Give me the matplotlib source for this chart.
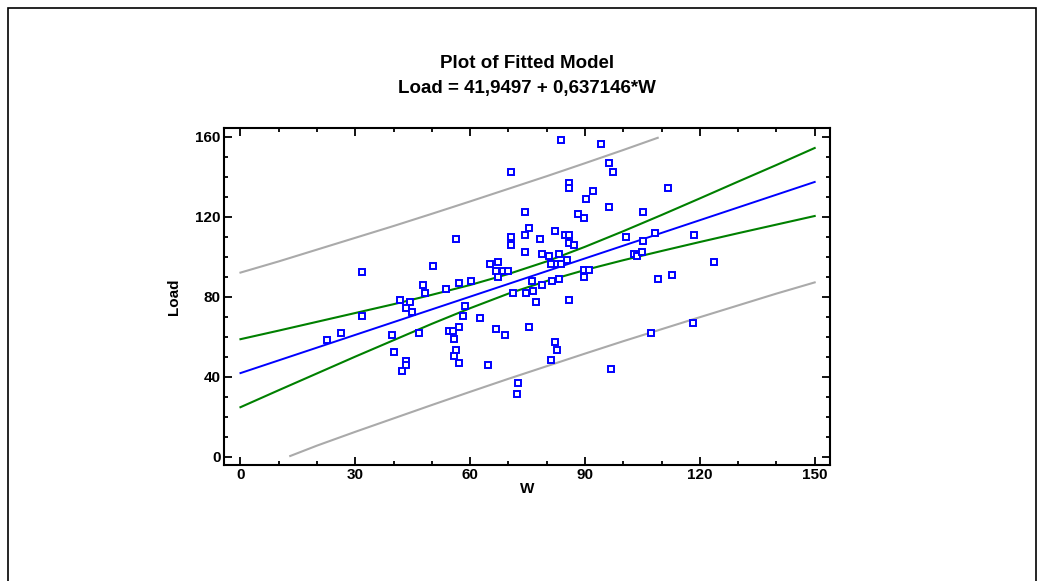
import matplotlib.pyplot as plt
from matplotlib.patches import Rectangle
from matplotlib.ticker import MultipleLocator
import numpy as np

# scatter data
w_obs = [70.7, 56.2, 70.7, 70.7, 50.3, 65.2, 67.2, 31.8, 83.7, 94.1,
         96.2, 97.3, 85.8, 85.8, 92.2, 90.2, 111.8, 96.2, 74.2, 105.2,
         88.2, 89.7, 75.3, 82.2, 74.2, 78.3, 84.8, 85.8, 85.8, 87.2,
         100.8, 105.2, 108.2, 118.6, 74.2, 78.7, 80.7, 83.3, 85.3, 81.2,
         82.7, 83.8, 102.7, 103.7, 104.8, 123.8, 89.7, 91.1, 66.7, 68.7,
         69.8, 67.3, 47.7, 57.2, 60.2, 48.3, 53.7, 71.2, 41.6, 44.2,
         43.2, 44.8, 31.7, 58.7, 58.2, 62.7, 26.2, 22.7, 39.7, 46.7,
         54.6, 55.6, 57.2, 66.8, 69.2, 55.7, 40.2, 56.2, 55.7, 43.3,
         43.3, 42.2, 57.2, 64.7, 72.6, 72.2, 89.8, 76.2, 78.7, 81.3,
         83.3, 74.6, 76.3, 77.3, 85.8, 109.2, 112.7, 75.3, 82.2, 82.7,
         81.2, 107.2, 118.2, 96.7]
load_obs = [142.4, 109.0, 109.8, 106.0, 95.5, 96.5, 97.5, 92.7, 158.7, 156.7,
            147.2, 142.3, 136.8, 134.7, 132.8, 129.0, 134.7, 125.2, 122.3, 122.3,
            121.5, 119.5, 114.7, 112.8, 110.8, 109.0, 110.8, 110.8, 107.0, 106.0,
            110.0, 108.0, 112.0, 110.8, 102.3, 101.3, 100.3, 101.3, 98.5, 96.5,
            96.5, 96.5, 101.3, 100.3, 102.3, 97.5, 93.7, 93.7, 92.8, 92.8,
            92.8, 89.8, 86.0, 87.0, 88.0, 82.2, 84.2, 82.2, 78.5, 77.3,
            74.5, 72.7, 70.7, 75.5, 70.7, 69.7, 62.2, 58.3, 61.2, 62.2,
            63.2, 63.2, 65.0, 64.0, 61.2, 59.2, 52.5, 53.5, 50.7, 47.8,
            45.8, 43.0, 46.8, 45.8, 37.2, 31.5, 89.8, 88.0, 86.0, 88.0,
            89.0, 82.2, 83.2, 77.5, 78.5, 89.0, 90.8, 65.0, 57.3, 53.5,
            48.7, 62.2, 66.8, 43.8]

# fitted model from the title
intercept = 41.9497
slope = 0.637146
w_fit = [0, 150]

# confidence limits (green)
w_band = [0, 10, 20, 30, 40, 50, 60, 70, 80, 90, 100, 110, 120, 130, 140, 150]
conf_upper = [58.9, 63.2, 67.6, 72.0, 76.4, 81.1, 86.0, 91.5, 97.8, 105.1,
              112.9, 121.0, 129.3, 137.7, 146.0, 154.5]
conf_lower = [24.9, 33.4, 41.8, 50.2, 58.4, 66.6, 74.4, 81.7, 88.0, 93.5,
              98.4, 103.0, 107.5, 111.9, 116.2, 120.5]

# prediction limits (grey), clipped at 0 and 160 in the original
w_pred_up = [0, 10, 20, 30, 40, 50, 60, 70, 80, 90, 100, 109]
pred_upper = [92.2, 97.8, 103.7, 109.6, 115.5, 121.6, 127.8, 134.1, 140.4,
              146.9, 153.5, 159.6]
w_pred_lo = [13, 20, 30, 40, 50, 60, 70, 80, 90, 100, 110, 120, 130, 140, 150]
pred_lower = [0.5, 5.7, 12.6, 19.3, 26.0, 32.6, 39.1, 45.4, 51.7, 57.9,
              63.9, 69.9, 75.8, 81.7, 87.3]

plt.rcParams['font.family'] = ['Liberation Sans', 'DejaVu Sans']
plt.rcParams['font.weight'] = 'bold'

fig = plt.figure(figsize=(10.43, 5.81), dpi=100)
ax = fig.add_axes([224 / 1043, 1 - 465 / 581, (830 - 224) / 1043, (465 - 128) / 581])

# frame around the whole picture
fig.patches.append(Rectangle((8 / 1043, -0.1), 1028 / 1043, 1.1 - 8 / 581,
                             transform=fig.transFigure, fill=False,
                             edgecolor='black', linewidth=1.2))

ax.plot(w_pred_up, pred_upper, color='#aaaaaa', lw=1.5)
ax.plot(w_pred_lo, pred_lower, color='#aaaaaa', lw=1.5)
ax.plot(w_band, conf_upper, color='#008000', lw=1.5)
ax.plot(w_band, conf_lower, color='#008000', lw=1.5)
y_fit = [intercept + slope * w for w in w_fit]
ax.plot(w_fit, y_fit, color='#0000ff', lw=1.4)
ax.plot(w_obs, load_obs, ls='none', marker='s', markersize=4.0,
        markerfacecolor='white', markeredgecolor='#0000ff', markeredgewidth=1.4)

ax.set_xlim(-4.3, 154.0)
ax.set_ylim(-4, 164.5)
ax.xaxis.set_major_locator(MultipleLocator(30))
ax.xaxis.set_minor_locator(MultipleLocator(10))
ax.yaxis.set_major_locator(MultipleLocator(40))
ax.yaxis.set_minor_locator(MultipleLocator(10))
ax.tick_params(which='both', direction='in', top=True, right=True,
               labelsize=11, width=1.3)
ax.tick_params(which='major', length=6, pad=2.5)
ax.tick_params(which='minor', length=3)
for sp in ax.spines.values():
    sp.set_linewidth(1.5)

ax.set_xlabel('W', fontsize=11, fontweight='bold', labelpad=0)
ax.set_ylabel('Load', fontsize=11, fontweight='bold', labelpad=10)

fig.text(527 / 1043, 1 - 64 / 581, 'Plot of Fitted Model', ha='center',
         va='center', fontsize=13.5, fontweight='bold')
fig.text(527 / 1043, 1 - 88 / 581, 'Load = 41,9497 + 0,637146*W', ha='center',
         va='center', fontsize=13.5, fontweight='bold')

fig.savefig('out.png', dpi=100)
